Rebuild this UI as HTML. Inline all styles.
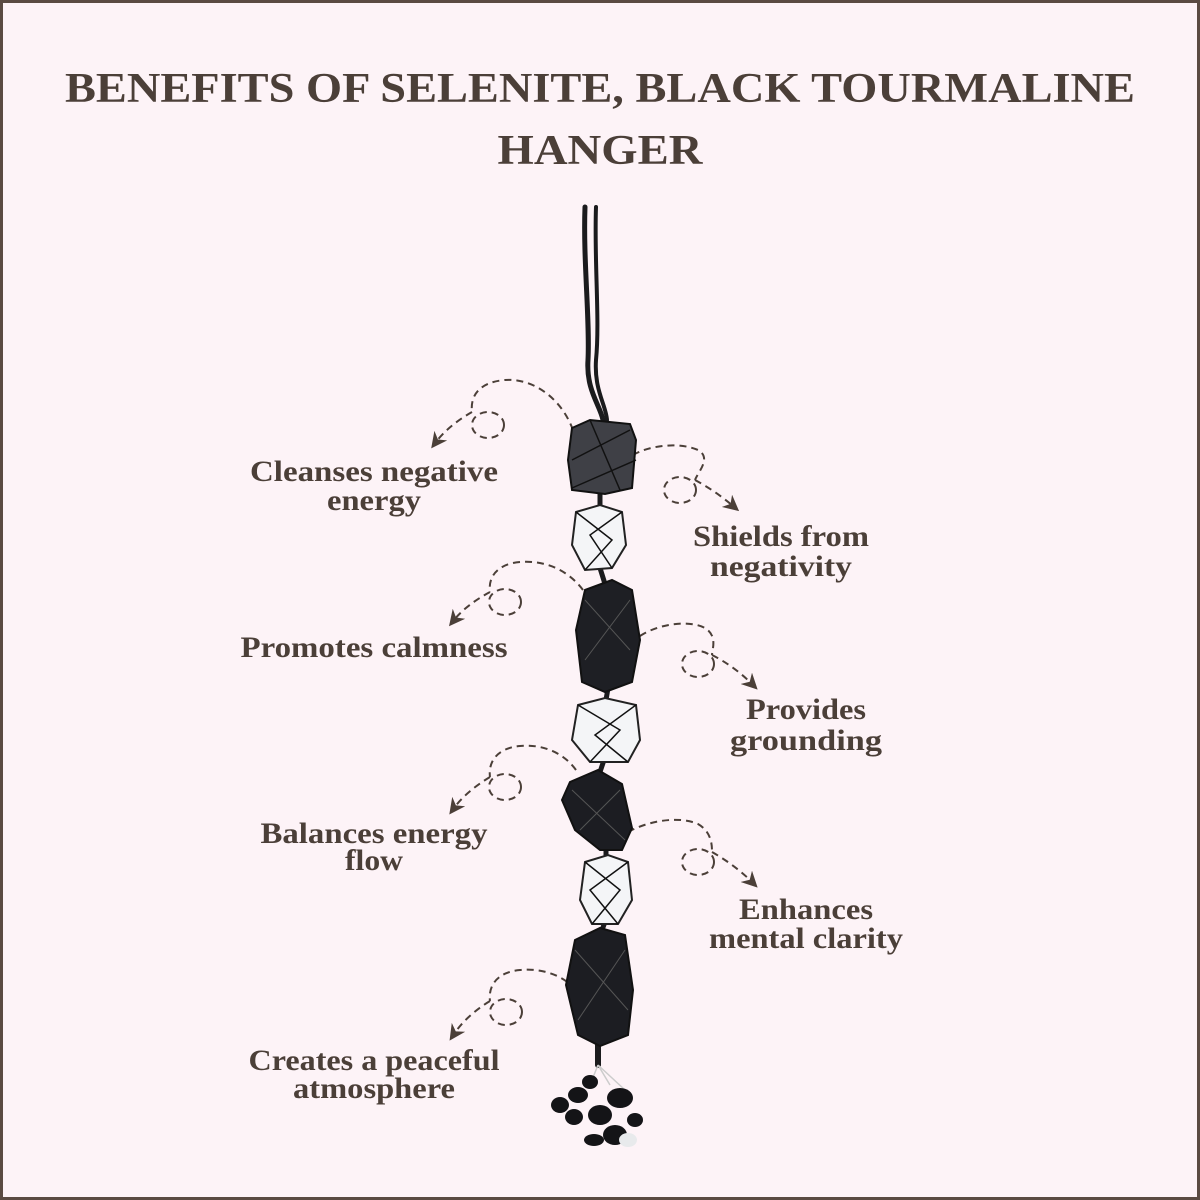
<!DOCTYPE html>
<html><head><meta charset="utf-8"><style>
html,body{margin:0;padding:0;background:#fdf3f7}
svg{display:block}
text{font-family:"Liberation Serif",serif;fill:#4b3f38;font-weight:bold}
</style></head><body>
<svg width="1200" height="1200" viewBox="0 0 1200 1200" xmlns="http://www.w3.org/2000/svg">
<rect x="1.5" y="1.5" width="1197" height="1197" fill="#fdf3f7" stroke="#5a4a42" stroke-width="3"/>
<text x="600" y="102" font-size="42" text-anchor="middle" textLength="1070" lengthAdjust="spacingAndGlyphs">BENEFITS OF SELENITE, BLACK TOURMALINE</text>
<text x="600" y="164" font-size="42" text-anchor="middle" textLength="205" lengthAdjust="spacingAndGlyphs">HANGER</text>

<defs>
<marker id="ah" viewBox="0 0 10 10" refX="5" refY="5" markerWidth="8" markerHeight="8" orient="auto"><path d="M0,0 L10,5 L0,10 L3,5 z" fill="#4b3f38"/></marker>
</defs>
<g fill="none" stroke="#4b3f38" stroke-width="2" stroke-dasharray="7,5">
<path d="M573,430 C560,395 530,378 505,380 C480,382 470,395 472,412"/>
<ellipse cx="488" cy="425" rx="16" ry="13"/>
<path d="M472,412 C458,420 445,430 436,442" marker-end="url(#ah)"/>
<path d="M583,590 C568,570 545,560 520,562 C497,564 488,577 490,592"/>
<ellipse cx="505" cy="602" rx="16" ry="13"/>
<path d="M490,592 C475,600 462,610 454,620" marker-end="url(#ah)"/>
<path d="M576,770 C563,752 542,744 520,746 C497,748 488,762 490,777"/>
<ellipse cx="505" cy="787" rx="16" ry="13"/>
<path d="M490,777 C475,786 462,797 454,808" marker-end="url(#ah)"/>
<path d="M576,990 C563,975 542,968 520,970 C497,972 488,986 490,1001"/>
<ellipse cx="506" cy="1012" rx="16" ry="13"/>
<path d="M490,1001 C475,1010 462,1022 454,1034" marker-end="url(#ah)"/>
<path d="M633,455 C650,445 680,442 698,450 C712,458 698,472 695,480"/>
<ellipse cx="680" cy="490" rx="16" ry="13"/>
<path d="M695,480 C708,487 720,495 733,506" marker-end="url(#ah)"/>
<path d="M640,636 C660,623 690,620 705,628 C718,636 712,650 712,655"/>
<ellipse cx="698" cy="664" rx="16" ry="13"/>
<path d="M712,655 C726,662 740,672 752,684" marker-end="url(#ah)"/>
<path d="M628,832 C650,820 680,816 698,824 C712,832 712,846 712,852"/>
<ellipse cx="698" cy="862" rx="16" ry="13"/>
<path d="M712,852 C726,860 740,870 752,882" marker-end="url(#ah)"/>
</g>

<g stroke="#1b1b1d" fill="none" stroke-linecap="round">
<path d="M585,207 C583,260 590,320 588,360 C586,390 600,405 603,420" stroke-width="5"/>
<path d="M596,207 C594,260 600,320 596,360 C594,390 606,405 607,420" stroke-width="4"/>
<path d="M600,490 L600,508" stroke-width="5"/>
<path d="M600,568 L605,584" stroke-width="5"/>
<path d="M608,688 L606,700" stroke-width="5"/>
<path d="M604,760 L600,772" stroke-width="5"/>
<path d="M606,848 L606,858" stroke-width="5"/>
<path d="M605,922 L602,930" stroke-width="5"/>
<path d="M598,1042 L598,1065" stroke-width="6"/>
</g>
<g fill="#2b2c30" stroke="#111" stroke-width="2">
<path d="M572,428 L590,420 L630,424 L636,440 L632,488 L605,494 L572,490 L568,460 z" fill="#3f4046"/>
<path d="M585,590 L612,580 L632,590 L640,640 L632,682 L605,692 L582,682 L576,630 z" fill="#1e1f24"/>
<path d="M570,782 L598,770 L622,784 L632,828 L622,850 L600,850 L575,830 L562,800 z" fill="#1c1d22"/>
<path d="M575,940 L600,928 L625,935 L633,990 L628,1035 L600,1046 L578,1035 L566,985 z" fill="#1c1d22"/>
</g>
<g fill="#f4f5f7" stroke="#222" stroke-width="2">
<path d="M576,512 L600,505 L622,512 L626,545 L612,568 L585,570 L572,545 z"/>
<path d="M578,705 L605,698 L636,705 L640,740 L628,762 L590,762 L572,740 z"/>
<path d="M585,862 L608,855 L628,862 L632,900 L618,924 L592,924 L580,900 z"/>
</g>
<g stroke="#111" stroke-width="1.5" fill="none">
<path d="M576,512 L612,540 L585,570 M622,512 L590,535 L612,568 M578,705 L620,730 L590,762 M636,705 L595,735 L628,762 M585,862 L620,890 L592,924 M628,862 L590,890 L618,924"/>
<path d="M572,460 L630,430 M572,488 L636,460 M590,420 L620,490"/>
</g>
<g stroke="#555" stroke-width="1" fill="none">
<path d="M585,600 L630,650 M630,600 L585,660 M572,790 L625,840 M620,790 L580,830 M575,950 L628,1010 M625,950 L578,1020"/>
</g>
<g fill="#141417">
<path d="M598,1065 L590,1085 M598,1065 L610,1085 M598,1065 L625,1090" stroke="#ccc" stroke-width="1.5"/>
<ellipse cx="560" cy="1105" rx="9" ry="8"/>
<ellipse cx="578" cy="1095" rx="10" ry="8"/>
<ellipse cx="590" cy="1082" rx="8" ry="7"/>
<ellipse cx="574" cy="1117" rx="9" ry="8"/>
<ellipse cx="600" cy="1115" rx="12" ry="10"/>
<ellipse cx="620" cy="1098" rx="13" ry="10"/>
<ellipse cx="615" cy="1135" rx="12" ry="10"/>
<ellipse cx="635" cy="1120" rx="8" ry="7"/>
<ellipse cx="594" cy="1140" rx="10" ry="6"/>
<ellipse cx="628" cy="1140" rx="9" ry="7" fill="#e8eaec"/>
</g>

<g font-size="30" text-anchor="middle">
<text x="374" y="481" textLength="248" lengthAdjust="spacingAndGlyphs">Cleanses negative</text>
<text x="374" y="510" textLength="94" lengthAdjust="spacingAndGlyphs">energy</text>
<text x="781" y="546" textLength="176" lengthAdjust="spacingAndGlyphs">Shields from</text>
<text x="781" y="576" textLength="142" lengthAdjust="spacingAndGlyphs">negativity</text>
<text x="374" y="657" textLength="267" lengthAdjust="spacingAndGlyphs">Promotes calmness</text>
<text x="806" y="719" textLength="120" lengthAdjust="spacingAndGlyphs">Provides</text>
<text x="806" y="750" textLength="152" lengthAdjust="spacingAndGlyphs">grounding</text>
<text x="374" y="843" textLength="227" lengthAdjust="spacingAndGlyphs">Balances energy</text>
<text x="374" y="870" textLength="58" lengthAdjust="spacingAndGlyphs">flow</text>
<text x="806" y="919" textLength="134" lengthAdjust="spacingAndGlyphs">Enhances</text>
<text x="806" y="948" textLength="194" lengthAdjust="spacingAndGlyphs">mental clarity</text>
<text x="374" y="1070" textLength="251" lengthAdjust="spacingAndGlyphs">Creates a peaceful</text>
<text x="374" y="1098" textLength="162" lengthAdjust="spacingAndGlyphs">atmosphere</text>
</g>
</svg>
</body></html>
